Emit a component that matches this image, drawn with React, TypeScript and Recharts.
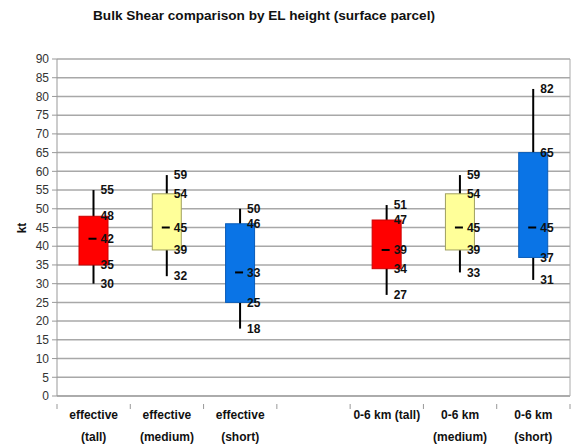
import React from "react";
import {
  ComposedChart,
  Bar,
  XAxis,
  YAxis,
  CartesianGrid,
} from "recharts";

const categories = [
  "effective (tall)",
  "effective (medium)",
  "effective (short)",
  "",
  "0-6 km (tall)",
  "0-6 km (medium)",
  "0-6 km (short)",
];
const tickLines = [
  ["effective", "(tall)"],
  ["effective", "(medium)"],
  ["effective", "(short)"],
  [],
  ["0-6 km (tall)"],
  ["0-6 km", "(medium)"],
  ["0-6 km", "(short)"],
];
const mins = [30, 32, 18, null, 27, 33, 31];
const q1s = [35, 39, 25, null, 34, 39, 37];
const medians = [42, 45, 33, null, 39, 45, 45];
const q3s = [48, 54, 46, null, 47, 54, 65];
const maxs = [55, 59, 50, null, 51, 59, 82];
const yTicks = [0, 5, 10, 15, 20, 25, 30, 35, 40, 45, 50, 55, 60, 65, 70, 75, 80, 85, 90];

const boxFill = ["#ff0000", "#ffff99", "#0a74e6", "none", "#ff0000", "#ffff99", "#0a74e6"];
const boxStroke = ["#cc0000", "#a0a060", "#0a5cb8", "none", "#cc0000", "#a0a060", "#0a5cb8"];

const data = categories.map((name, i) => ({
  name,
  idx: i,
  box: q1s[i] == null ? null : [q1s[i], q3s[i]],
  min: mins[i],
  med: medians[i],
  max: maxs[i],
  q1: q1s[i],
  q3: q3s[i],
}));

const FONT = '"Liberation Sans", Arial, sans-serif';

function BoxShape(props: any) {
  const { x, y, width, height, payload } = props;
  if (payload.q1 == null || !height) return null;
  const i = payload.idx;
  const k = height / (payload.q3 - payload.q1);
  const cx = x + width / 2;
  const yOf = (v: number) => y + (payload.q3 - v) * k;
  const lx = cx + 7;
  const labels = [payload.max, payload.q3, payload.med, payload.q1, payload.min];
  return (
    <g>
      <line x1={cx} x2={cx} y1={yOf(payload.max)} y2={yOf(payload.min)} stroke="#000" strokeWidth={2} />
      <rect x={x} y={y} width={width} height={height} fill={boxFill[i]} stroke={boxStroke[i]} strokeWidth={1} />
      <line x1={cx - 5} x2={cx + 3} y1={yOf(payload.med)} y2={yOf(payload.med)} stroke="#000" strokeWidth={2} />
      {labels.map((v: number, j: number) => (
        <text
          key={j}
          x={lx}
          y={yOf(v)}
          dy="0.35em"
          fontSize={12}
          fontWeight="bold"
          fontFamily={FONT}
          fill="#111"
        >
          {v}
        </text>
      ))}
    </g>
  );
}

function CatTick(props: any) {
  const { x, y, payload, index } = props;
  const half = payload.offset || 36.6;
  const lines = tickLines[index] || [];
  return (
    <g>
      <line x1={x - half} x2={x - half} y1={y} y2={y + 5} stroke="#999" />
      {index === categories.length - 1 && (
        <line x1={x + half} x2={x + half} y1={y} y2={y + 5} stroke="#999" />
      )}
      {lines.map((t, j) => (
        <text
          key={j}
          x={x}
          y={y + 15 + j * 22}
          textAnchor="middle"
          fontSize={12}
          fontWeight="bold"
          fontFamily={FONT}
          fill="#111"
        >
          {t}
        </text>
      ))}
    </g>
  );
}

export default function App() {
  return (
    <div style={{ position: "relative", width: 574, height: 447, background: "#fff", fontFamily: FONT }}>
      <style>{`body{margin:0}`}</style>
      <div
        style={{
          position: "absolute",
          left: 0,
          width: 528,
          top: 8,
          textAlign: "center",
          fontSize: 13.6,
          fontWeight: "bold",
          color: "#111",
        }}
      >
        Bulk Shear comparison by EL height (surface parcel)
      </div>
      <div
        style={{
          position: "absolute",
          left: 22,
          top: 228,
          transform: "translate(-50%, -50%) rotate(-90deg)",
          fontSize: 12,
          fontWeight: "bold",
          color: "#111",
        }}
      >
        kt
      </div>
      <ComposedChart
        width={574}
        height={447}
        data={data}
        margin={{ top: 59, right: 3, left: 17, bottom: 0 }}
        barCategoryGap={0}
        style={{ position: "absolute", left: 0, top: 0 }}
      >
        <CartesianGrid vertical={false} stroke="#a8a8a8" strokeWidth={1.5} />
        <XAxis
          dataKey="name"
          height={51}
          axisLine={{ stroke: "#999" }}
          tickLine={false}
          tick={<CatTick />}
          interval={0}
        />
        <YAxis
          domain={[0, 90]}
          ticks={yTicks}
          interval={0}
          width={40}
          tickSize={5}
          tickMargin={3}
          axisLine={{ stroke: "#999" }}
          tickLine={{ stroke: "#999" }}
          tick={{ fontSize: 12, fill: "#333", fontFamily: FONT }}
        />
        <YAxis
          yAxisId="right"
          orientation="right"
          width={1}
          tick={false}
          tickLine={false}
          axisLine={{ stroke: "#aaa" }}
        />
        <Bar dataKey="box" barSize={29} shape={<BoxShape />} isAnimationActive={false} />
      </ComposedChart>
    </div>
  );
}
